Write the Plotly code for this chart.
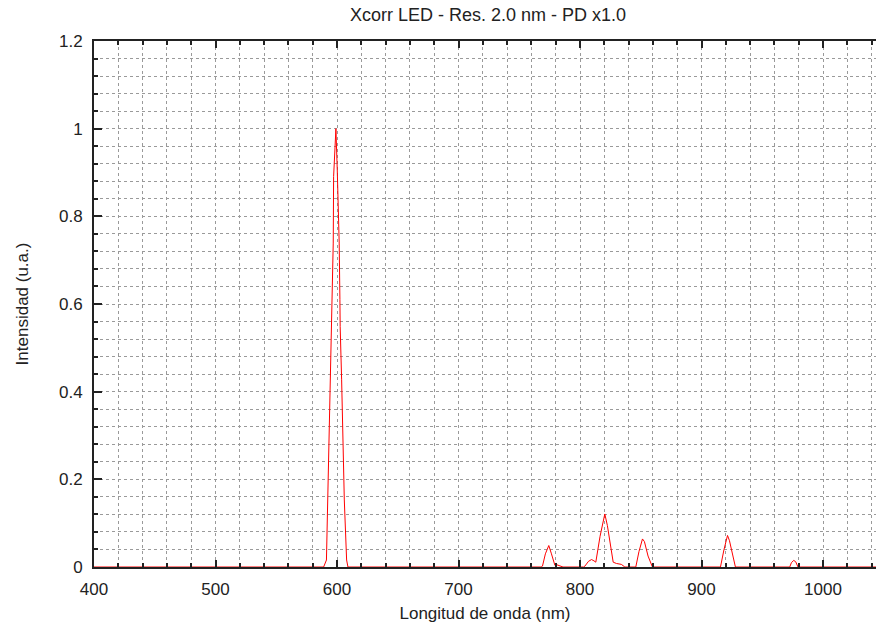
import plotly.graph_objects as go

# Wavelength (nm) and normalised intensity
wavelength = [400, 589, 591.3, 592.8, 594.2, 595.6, 596.9, 597.2, 598.3, 599.1,
              600.2, 601.0, 601.8, 602.4, 602.6, 603.8, 604.6, 606.0, 607.9, 609,
              768, 769.1, 771.5, 774.3, 776.5, 779.3, 781, 784.8, 786,
              803, 804, 807, 809.5, 811.5, 813, 816.5, 820.4, 822.5, 824.5, 827.3, 830, 834, 836.9,
              845.9, 848.5, 851.4, 853, 856, 859.6,
              915.6, 918.5, 921.4, 923, 925.5, 927.9,
              972.6, 974, 975.9, 977.5, 979.4, 1050]
intensity = [0, 0, 0.016, 0.199, 0.397, 0.579, 0.739, 0.891, 0.952, 1.0,
             0.906, 0.838, 0.739, 0.61, 0.549, 0.427, 0.306, 0.153, 0.016, 0,
             0, 0.002, 0.03, 0.049, 0.03, 0.004, 0.005, 0.002, 0,
             0, 0.002, 0.013, 0.017, 0.014, 0.011, 0.07, 0.121, 0.095, 0.063, 0.011, 0.008, 0.006, 0,
             0, 0.035, 0.064, 0.058, 0.025, 0,
             0, 0.04, 0.072, 0.06, 0.03, 0,
             0, 0.01, 0.015, 0.012, 0, 0]

x_ticks = [400, 500, 600, 700, 800, 900, 1000]
y_ticks = [0, 0.2, 0.4, 0.6, 0.8, 1.0, 1.2]
y_tick_text = ["0", "0.2", "0.4", "0.6", "0.8", "1", "1.2"]

FONT = "Liberation Sans, Arial, Helvetica, sans-serif"

fig = go.Figure()
fig.add_trace(go.Scatter(x=wavelength, y=intensity, mode="lines",
                         line=dict(color="#ff0000", width=1), showlegend=False))

grid = dict(showgrid=True, gridcolor="#9a9a9a", griddash="dot", gridwidth=1)

fig.update_layout(
    width=876, height=625,
    margin=dict(l=94, r=0, t=41, b=58),
    plot_bgcolor="white", paper_bgcolor="white",
    font=dict(family=FONT, size=17, color="#222"),
    title=dict(text="Xcorr LED - Res. 2.0 nm - PD x1.0", x=0.557, xanchor="center",
               y=1 - 15 / 625, yref="container", yanchor="middle",
               font=dict(family=FONT, size=18, color="#222")),
    xaxis=dict(range=[400, 1043.6], tickvals=x_ticks, ticks="inside", ticklen=7,
               tickcolor="#222", tickwidth=1.5,
               showline=True, linecolor="#222", linewidth=2, mirror="ticks",
               zeroline=False, ticklabelstandoff=6,
               tickfont=dict(family=FONT, size=17, color="#222"),
               title=dict(text="Longitud de onda (nm)", standoff=9,
                          font=dict(family=FONT, size=17, color="#222")),
               minor=dict(dtick=20, ticks="inside", ticklen=4, tickcolor="#222",
                          showgrid=True, gridcolor="#9a9a9a", griddash="dot", gridwidth=1),
               **grid),
    yaxis=dict(range=[0, 1.2], tickvals=y_ticks, ticktext=y_tick_text, ticks="inside",
               ticklen=8, tickcolor="#222", tickwidth=1.5,
               showline=True, linecolor="#222", linewidth=2,
               zeroline=False, ticklabelstandoff=6,
               tickfont=dict(family=FONT, size=17, color="#222"),
               title=dict(text="Intensidad (u.a.)", standoff=26,
                          font=dict(family=FONT, size=17, color="#222")),
               minor=dict(dtick=0.04, ticks="inside", ticklen=4, tickcolor="#222",
                          showgrid=True, gridcolor="#9a9a9a", griddash="dot", gridwidth=1),
               **grid),
)

fig.write_html("out.html")
